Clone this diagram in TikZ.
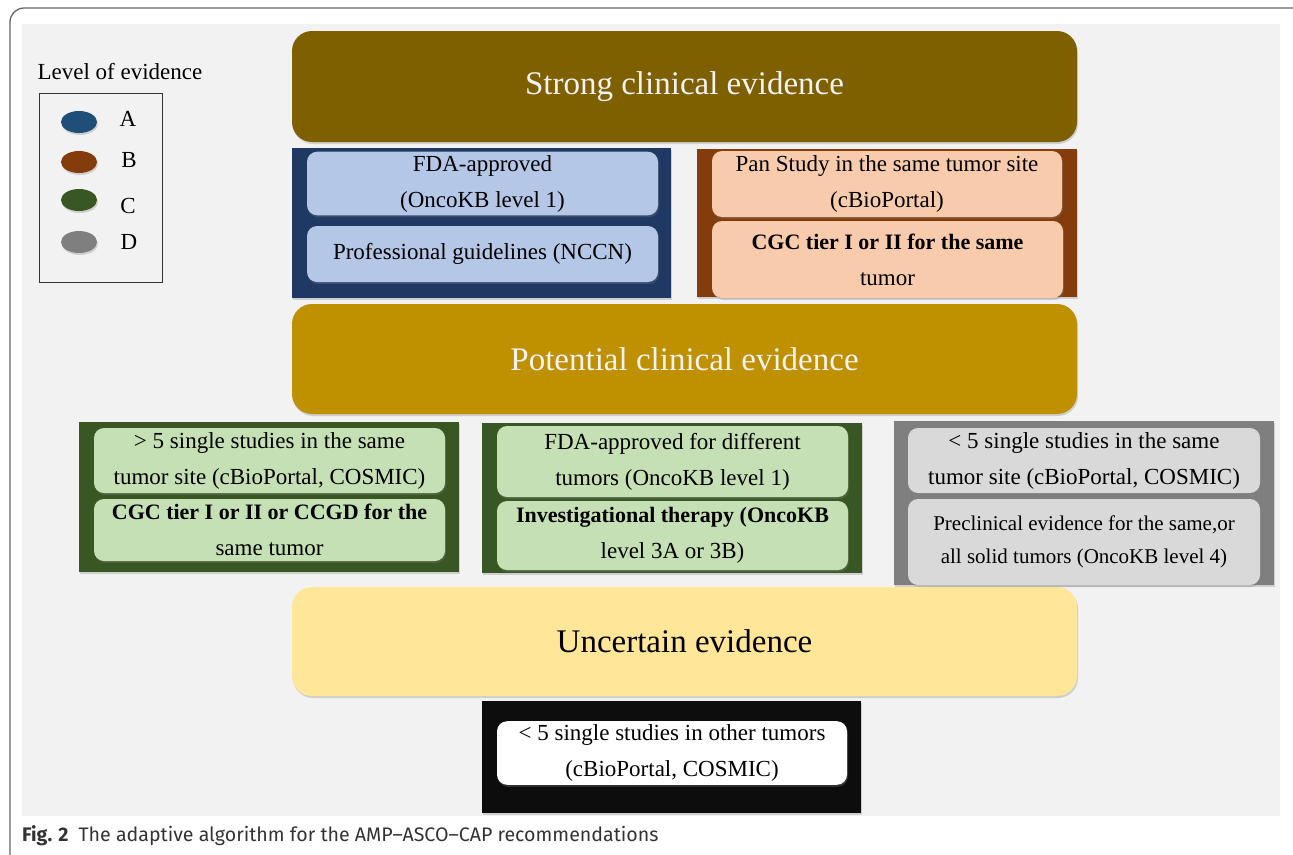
\documentclass[tikz,border=0pt]{standalone}
\usepackage{fontspec}
\setmainfont{Liberation Serif}
\newfontfamily\capfont[Ligatures=TeX]{Fira Sans}
\usetikzlibrary{shapes.geometric,shadows}

\definecolor{strongclr}{HTML}{7F6000}
\definecolor{potentialclr}{HTML}{BF9000}
\definecolor{uncertainclr}{HTML}{FFE699}
\definecolor{aclr}{HTML}{203864}
\definecolor{aitem}{HTML}{B4C7E7}
\definecolor{bclr}{HTML}{843C0C}
\definecolor{bitem}{HTML}{F8CBAD}
\definecolor{cclr}{HTML}{385723}
\definecolor{citem}{HTML}{C5E0B4}
\definecolor{dclr}{HTML}{7F7F7F}
\definecolor{ditem}{HTML}{D9D9D9}
\definecolor{panelclr}{HTML}{F2F2F2}
\definecolor{dotA}{HTML}{1F4E79}

\begin{document}
\begin{tikzpicture}[
  x=1pt, y=-1pt,
  shade/.style={drop shadow={shadow xshift=1pt, shadow yshift=-2pt, opacity=0.3}},
  tier/.style={rectangle, rounded corners=20pt, minimum width=785pt, shade,
    font=\fontsize{33}{40}\selectfont},
  group/.style={rectangle, minimum width=380pt, shade},
  item/.style={rectangle, rounded corners=10pt, minimum width=351pt, align=center,
    shade, font=\fontsize{23}{36}\selectfont},
  dot/.style={ellipse, minimum width=36pt, minimum height=22pt, inner sep=0pt, shade},
  letter/.style={font=\fontsize{23}{28}\selectfont}
]
\useasboundingbox (0,0) rectangle (1293,854);

% Frame and panel
\begin{scope}
  \clip (0,0) rectangle (1293,854);
  \draw[black!60, line width=1.3pt, rounded corners=14pt] (10,8) rectangle (1320,880);
\end{scope}
\fill[panelclr] (22,24) rectangle (1280,816);

% Legend
\node[letter, anchor=west] (legtitle) at (34,72) {Level of evidence};
\node[draw=black!80, line width=0.8pt, minimum width=123pt, minimum height=189pt] (legbox) at (100.5,187.5) {};
\node[dot, fill=dotA] (dotA) at (79,122) {};
\node[dot, fill=bclr] (dotB) at (79,162) {};
\node[dot, fill=cclr] (dotC) at (79,200) {};
\node[dot, fill=dclr] (dotD) at (79,242) {};
\node[letter] (labA) at (128,119) {A};
\node[letter] (labB) at (129,160) {B};
\node[letter] (labC) at (128,206) {C};
\node[letter] (labD) at (129,242) {D};

% Tiers
\node[tier, fill=strongclr, text=panelclr, minimum height=111pt] (strong) at (684.5,86.5) {Strong clinical evidence};
\node[tier, fill=potentialclr, text=panelclr, minimum height=110pt] (potential) at (684.5,359) {Potential clinical evidence};
\node[tier, fill=uncertainclr, minimum height=109pt] (uncertain) at (684.5,641.5) {Uncertain evidence};

% Level A
\node[group, fill=aclr, minimum width=379pt, minimum height=150pt] (groupA) at (481.5,223) {};
\node[item, fill=aitem, minimum height=59pt] (a1) at (482.5,183.5) {FDA-approved\\(OncoKB level 1)};
\node[item, fill=aitem, minimum height=56pt] (a2) at (482.5,254) {Professional guidelines (NCCN)};

% Level B
\node[group, fill=bclr, minimum height=148pt] (groupB) at (887,223) {};
\node[item, fill=bitem, minimum width=350pt, minimum height=66pt] (b1) at (887,184) {Pan Study in the same tumor site\\(cBioPortal)};
\node[item, fill=bitem, minimum height=77pt] (b2) at (887.5,259.5) {{\fontsize{22}{36}\selectfont\bfseries CGC tier I or II for the same}\\tumor};

% Level C, same tumor
\node[group, fill=cclr, minimum height=150pt] (groupC1) at (269,497) {};
\node[item, fill=citem, minimum height=65pt] (c1) at (269.5,460.5) {> 5 single studies in the same\\tumor site (cBioPortal, COSMIC)};
\node[item, fill=citem, minimum height=62pt] (c2) at (269.5,530) {{\fontsize{22}{36}\selectfont\bfseries CGC tier I or II or CCGD for the}\\same tumor};

% Level C, therapy
\node[group, fill=cclr, minimum height=150pt] (groupC2) at (672,498) {};
\node[item, fill=citem, minimum height=71pt] (c3) at (672.5,461.5) {FDA-approved for different\\tumors (OncoKB level 1)};
\node[item, fill=citem, minimum height=69pt] (c4) at (672.5,535.5) {{\fontsize{22}{36}\selectfont\bfseries Investigational therapy (OncoKB}\\level 3A or 3B)};

% Level D
\node[group, fill=dclr, minimum height=164pt] (groupD) at (1084,503) {};
\node[item, fill=ditem, minimum width=352pt, minimum height=65pt] (d1) at (1084,460.5) {< 5 single studies in the same\\tumor site (cBioPortal, COSMIC)};
\node[item, fill=ditem, minimum width=352pt, minimum height=86pt, font=\fontsize{21}{33}\selectfont] (d2) at (1084,542) {Preclinical evidence for the same,or\\all solid tumors (OncoKB level 4)};

% Other tumors
\node[group, fill=black!95, minimum width=379pt, minimum height=112pt] (groupE) at (671.5,757) {};
\node[item, fill=white, minimum width=350pt, minimum height=62pt] (e1) at (672,753) {< 5 single studies in other tumors\\(cBioPortal, COSMIC)};

% Caption
\node[anchor=west, inner sep=0pt, font=\capfont\fontsize{19.6}{22}\selectfont, text=black!80] (caption) at (22,836)
  {\textbf{Fig. 2}\hspace{10pt}The adaptive algorithm for the AMP–ASCO–CAP recommendations};

\end{tikzpicture}
\end{document}
